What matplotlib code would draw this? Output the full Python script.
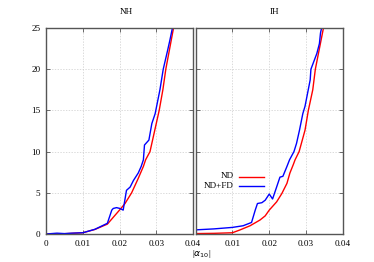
import matplotlib
matplotlib.use("Agg")
import matplotlib.pyplot as plt
from matplotlib.lines import Line2D

plt.rcParams['font.family'] = ['Liberation Serif', 'DejaVu Serif']

# NH panel
nh_nd_x = [0.0, 0.005, 0.010, 0.0133, 0.0167, 0.0200, 0.0215, 0.0233, 0.0251, 0.0265, 0.0271,
           0.0283, 0.0308, 0.0318, 0.0326, 0.0347]
nh_nd_y = [0.0, 0.03, 0.15, 0.55, 1.2, 2.9, 3.7, 5.0, 6.75, 8.2, 9.0,
           10.0, 15.0, 17.5, 20.0, 25.0]
nh_fd_x = [0.0, 0.003, 0.005, 0.007, 0.010, 0.0133, 0.0167, 0.0179, 0.0183, 0.0192, 0.0201, 0.0210,
           0.0219, 0.0229, 0.0238, 0.0251, 0.0259, 0.0265, 0.0268, 0.0280, 0.0288, 0.0297,
           0.0310, 0.0319, 0.0331, 0.0337, 0.0344]
nh_fd_y = [0.0, 0.1, 0.05, 0.1, 0.15, 0.57, 1.3, 2.9, 3.1, 3.2, 3.1, 2.9,
           5.3, 5.7, 6.5, 7.4, 8.2, 9.0, 10.8, 11.4, 13.4, 14.6,
           17.5, 20.0, 22.3, 23.5, 25.0]

# IH panel
ih_nd_x = [0.0, 0.005, 0.010, 0.0121, 0.0148, 0.0175, 0.0189, 0.0200, 0.0220, 0.0234, 0.0248,
           0.0256, 0.0265, 0.0270, 0.0281, 0.0297, 0.0306, 0.0318, 0.0325, 0.0347]
ih_nd_y = [0.05, 0.08, 0.15, 0.5, 1.0, 1.7, 2.2, 2.9, 3.9, 4.9, 6.15,
           7.4, 8.4, 9.0, 10.0, 12.6, 15.0, 17.5, 20.0, 25.0]
ih_fd_x = [0.0, 0.005, 0.010, 0.0129, 0.0152, 0.0162, 0.0168, 0.0180, 0.0189, 0.0200, 0.0209,
           0.0220, 0.0229, 0.0237, 0.0248, 0.0255, 0.0267, 0.0274, 0.0282, 0.0291, 0.0297,
           0.0311, 0.0313, 0.0329, 0.0336, 0.0339, 0.0342]
ih_fd_y = [0.5, 0.62, 0.8, 1.0, 1.4, 2.9, 3.7, 3.8, 4.1, 4.85, 4.25,
           5.7, 6.9, 7.0, 8.2, 9.0, 10.0, 11.0, 12.6, 14.6, 15.5,
           18.7, 20.0, 21.9, 23.1, 24.4, 25.0]

xticks_left = [0, 0.01, 0.02, 0.03, 0.04]
xtick_labels_left = ['0', '0.01', '0.02', '0.03', '0.04']
xticks_right = [0.01, 0.02, 0.03, 0.04]
xtick_labels_right = ['0.01', '0.02', '0.03', '0.04']
yticks = [0, 5, 10, 15, 20, 25]
legend_labels = ['ND', 'ND+FD']
legend_colors = ['red', 'blue']

W, H = 374, 262
fig = plt.figure(figsize=(W / 100, H / 100), dpi=100)

def rect(x0, x1, y0, y1):
    return [x0 / W, 1 - y1 / H, (x1 - x0) / W, (y1 - y0) / H]

ax1 = fig.add_axes(rect(46, 193, 28, 234))
ax2 = fig.add_axes(rect(195.5, 343, 28, 234))

fs = 6.6
spine_col = '#555555'
for ax in (ax1, ax2):
    ax.set_xlim(0, 0.04)
    ax.set_ylim(0, 25)
    ax.set_yticks(yticks)
    ax.patch.set_alpha(0)
    ax.grid(True, color='#cccccc', linestyle=(0, (2, 2)), linewidth=0.5)
    ax.set_axisbelow(True)
    for s in ax.spines.values():
        s.set_color(spine_col)
        s.set_linewidth(1.0)
    ax.tick_params(direction='in', length=3, width=0.6, color=spine_col,
                   labelsize=fs, top=True, right=True, pad=4)

ax1.set_xticks(xticks_left)
ax1.set_xticklabels(xtick_labels_left)
ax1.set_yticklabels([str(v) for v in yticks])
ax2.set_xticks(xticks_right)
ax2.set_xticklabels(xtick_labels_right)
ax2.set_yticklabels([])

ax1.plot(nh_nd_x, nh_nd_y, color='red', linewidth=1.0)
ax1.plot(nh_fd_x, nh_fd_y, color='blue', linewidth=1.0)
ax2.plot(ih_nd_x, ih_nd_y, color='red', linewidth=1.0)
ax2.plot(ih_fd_x, ih_fd_y, color='blue', linewidth=1.0)

fig.text(126.3 / W, 1 - 11.7 / H, 'NH', ha='center', va='center', fontsize=fs)
fig.text(274.3 / W, 1 - 11.7 / H, 'IH', ha='center', va='center', fontsize=fs)
fig.text(201.5 / W, 1 - 254 / H, r'|$\alpha_{10}$|', ha='center', va='center', fontsize=fs)

# legend (text right-aligned, sample line after text)
for i, (lab, col) in enumerate(zip(legend_labels, legend_colors)):
    yy = 1 - (176.5 + 9.3 * i) / H
    fig.text(233.5 / W, yy, lab, ha='right', va='center', fontsize=fs)
    fig.add_artist(Line2D([238.5 / W, 264 / W], [yy, yy], color=col, linewidth=1.0,
                          transform=fig.transFigure))

fig.savefig('out.png', dpi=100)
